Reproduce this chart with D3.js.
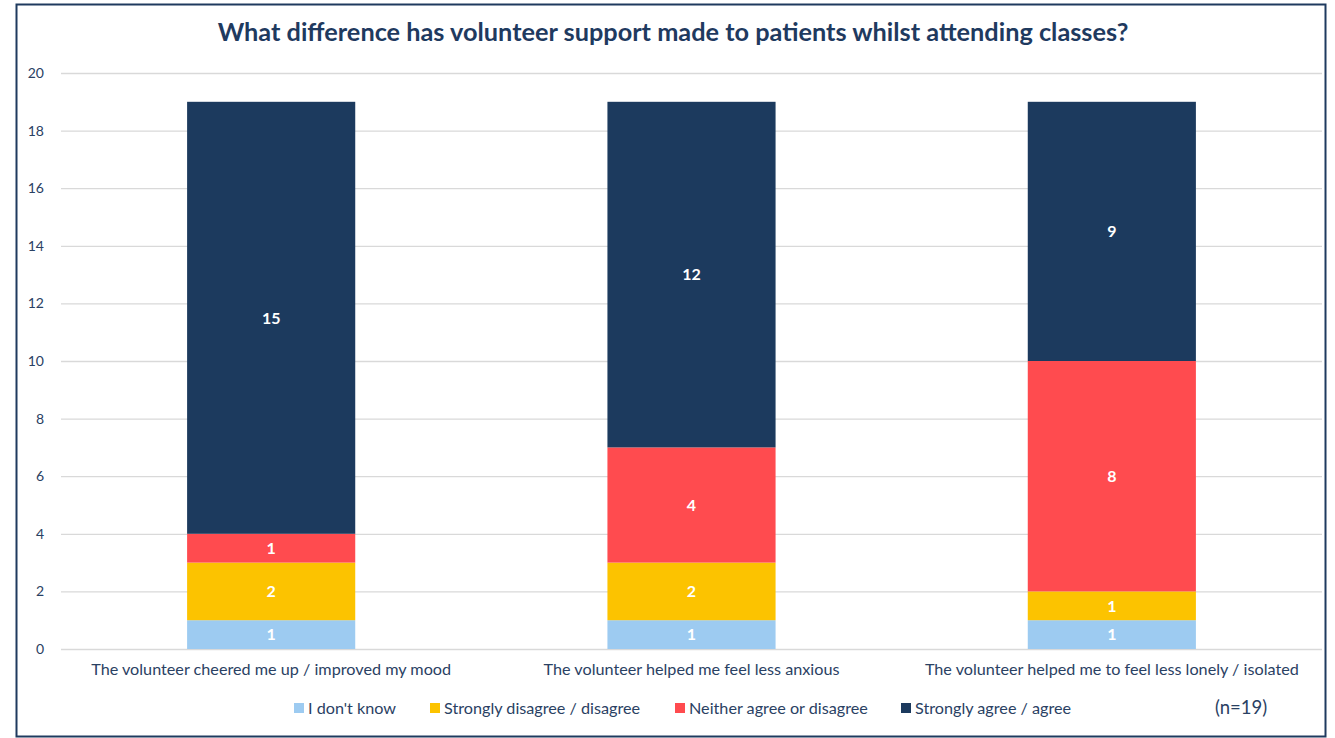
<!DOCTYPE html>
<html>
<head>
<meta charset="utf-8">
<script src="https://cdn.jsdelivr.net/npm/d3@7"></script>
<style>
  html, body { margin: 0; padding: 0; background: #ffffff; }
  svg { display: block; }
</style>
</head>
<body>
<svg id="chart" width="1335" height="738"></svg>
<script>
// Survey statements (x categories)
const categories = [
  "The volunteer cheered me up / improved my mood",
  "The volunteer helped me feel less anxious",
  "The volunteer helped me to feel less lonely / isolated"
];
// Response groups, stacked bottom to top
const seriesNames = [
  "I don't know",
  "Strongly disagree / disagree",
  "Neither agree or disagree",
  "Strongly agree / agree"
];
const dontKnow = [1, 1, 1];
const disagree = [2, 2, 1];
const neither  = [1, 4, 8];
const agree    = [15, 12, 9];
const yTicks = [0, 2, 4, 6, 8, 10, 12, 14, 16, 18, 20];
const colors = ["#9DCBF1", "#FCC300", "#FF4B4F", "#1C3A5E"];

const rows = categories.map((c, i) => ({
  category: c,
  [seriesNames[0]]: dontKnow[i],
  [seriesNames[1]]: disagree[i],
  [seriesNames[2]]: neither[i],
  [seriesNames[3]]: agree[i]
}));

const svg = d3.select("#chart");
const plot = { left: 61, right: 1322, top: 73, bottom: 649 };
const font = "Lato, 'Open Sans', sans-serif";
const textColor = "#2A4163";

// outer frame
svg.append("rect")
  .attr("x", 16.5).attr("y", 4.5)
  .attr("width", 1309).attr("height", 732)
  .attr("fill", "#ffffff")
  .attr("stroke", "#1F3A5F").attr("stroke-width", 2);

const x = d3.scaleBand()
  .domain(categories)
  .range([plot.left, plot.right])
  .paddingInner(0.6)
  .paddingOuter(0.3);

const y = d3.scaleLinear()
  .domain([0, 20])
  .range([plot.bottom, plot.top]);

// gridlines + tick labels
const yAxis = d3.axisLeft(y).tickValues(yTicks).tickSize(-(plot.right - plot.left)).tickPadding(17);
const gy = svg.append("g")
  .attr("transform", `translate(${plot.left},0)`)
  .call(yAxis);
gy.select(".domain").remove();
gy.selectAll(".tick line").attr("stroke", "#D9D9D9").attr("stroke-width", 1.3);
gy.selectAll(".tick text")
  .attr("fill", textColor)
  .style("font-family", font)
  .style("font-size", "14px");

// stacked bars
const stack = d3.stack().keys(seriesNames)(rows);
const layers = svg.append("g").selectAll("g")
  .data(stack)
  .join("g")
  .attr("fill", (d, i) => colors[i]);

layers.selectAll("rect")
  .data(d => d.map(v => ({ v, key: d.key })))
  .join("rect")
  .attr("x", d => x(d.v.data.category))
  .attr("width", x.bandwidth())
  .attr("y", d => y(d.v[1]))
  .attr("height", d => y(d.v[0]) - y(d.v[1]));

// value labels
layers.selectAll("text")
  .data(d => d.map(v => ({ v, key: d.key })))
  .join("text")
  .attr("x", d => x(d.v.data.category) + x.bandwidth() / 2)
  .attr("y", d => y((d.v[0] + d.v[1]) / 2))
  .attr("dy", "0.36em")
  .attr("text-anchor", "middle")
  .attr("fill", "#ffffff")
  .style("font-family", font)
  .style("font-weight", "bold")
  .style("font-size", "16px")
  .text(d => d.v[1] - d.v[0]);

// category axis labels
const gx = svg.append("g")
  .attr("transform", `translate(0,${plot.bottom})`)
  .call(d3.axisBottom(x).tickSize(0).tickPadding(14));
gx.select(".domain").remove();
gx.selectAll(".tick text")
  .attr("fill", textColor)
  .style("font-family", font)
  .style("font-size", "16.2px");

// title
svg.append("text")
  .attr("x", 673).attr("y", 41)
  .attr("text-anchor", "middle")
  .attr("fill", "#1F3A5F")
  .style("font-family", font)
  .style("font-weight", "bold")
  .style("font-size", "25.3px")
  .text("What difference has volunteer support made to patients whilst attending classes?");

// legend
const legendX = [294, 430, 675, 901];
const legend = svg.append("g").selectAll("g")
  .data(seriesNames)
  .join("g")
  .attr("transform", (d, i) => `translate(${legendX[i]},708)`);
legend.append("rect")
  .attr("x", 0).attr("y", -5).attr("width", 10).attr("height", 10)
  .attr("fill", (d, i) => colors[i]);
legend.append("text")
  .attr("x", 14).attr("y", 0).attr("dy", "0.35em")
  .attr("fill", textColor)
  .style("font-family", font)
  .style("font-size", "16.2px")
  .text(d => d);

svg.append("text")
  .attr("x", 1241).attr("y", 708).attr("dy", "0.35em")
  .attr("text-anchor", "middle")
  .attr("fill", textColor)
  .style("font-family", font)
  .style("font-size", "18.5px")
  .text("(n=19)");
</script>
</body>
</html>
